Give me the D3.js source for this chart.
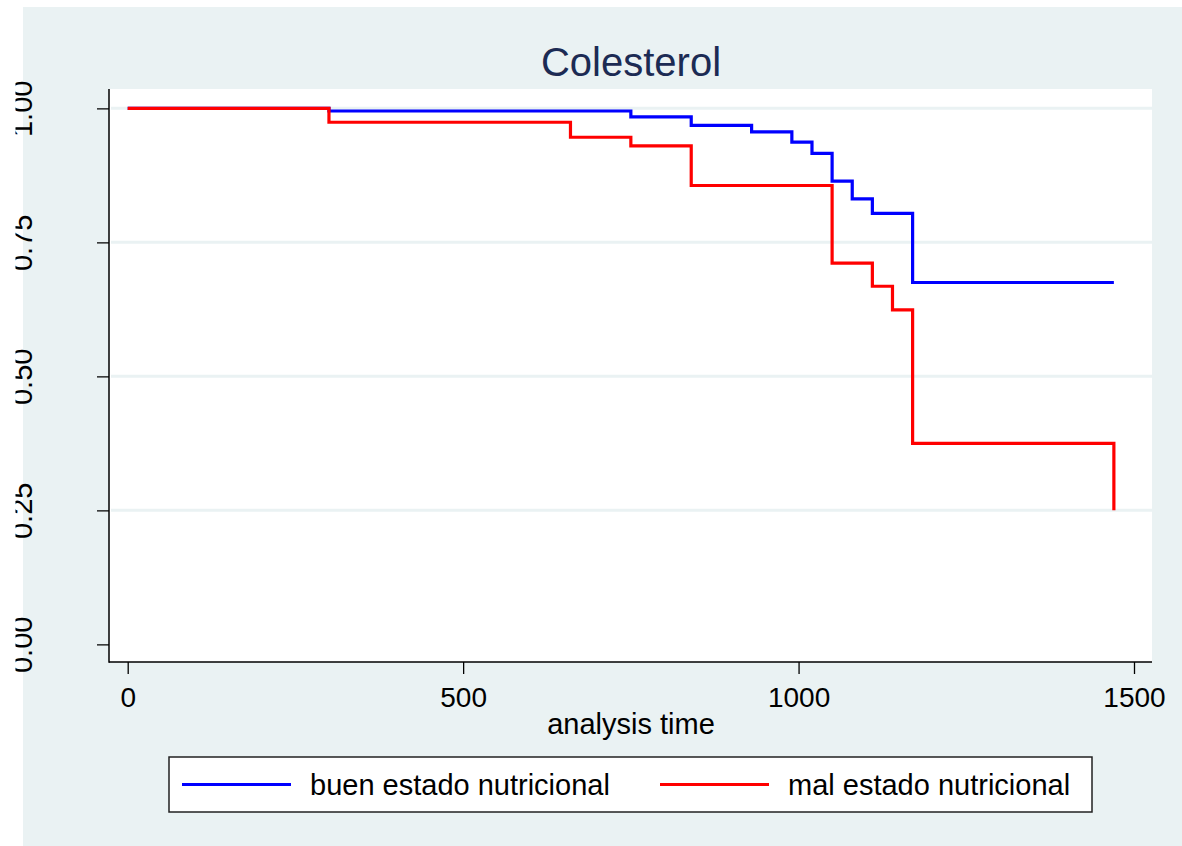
<!DOCTYPE html>
<html>
<head>
<meta charset="utf-8">
<script src="https://cdn.jsdelivr.net/npm/d3@7"></script>
<style>
  html, body { margin: 0; padding: 0; background: #fff; }
  svg { display: block; font-family: "Liberation Sans", Arial, sans-serif; }
</style>
</head>
<body>
<svg id="chart" width="1182" height="846"></svg>
<script>
// Kaplan-Meier estimates
const buenTime = [0, 300, 750, 840, 930, 990, 1020, 1050, 1080, 1110, 1170, 1470];
const buenSurv = [1, 0.995, 0.984, 0.968, 0.956, 0.937, 0.916, 0.864, 0.831, 0.804, 0.675, 0.675];
const malTime = [0, 300, 660, 750, 840, 1050, 1110, 1140, 1170, 1470];
const malSurv = [1, 0.974, 0.946, 0.930, 0.856, 0.711, 0.668, 0.624, 0.375, 0.25];

const seriesNames = ['buen estado nutricional', 'mal estado nutricional'];
const seriesColors = ['#0000ff', '#ff0000'];
const xTicks = [0, 500, 1000, 1500];
const yTicks = [0, 0.25, 0.5, 0.75, 1];
const yTickLabels = ['0.00', '0.25', '0.50', '0.75', '1.00'];

const W = 1182, H = 846;
const plot = { left: 109, right: 1152, top: 89, bottom: 662 };

const svg = d3.select('#chart');

// background
svg.append('rect').attr('x', 23).attr('y', 7).attr('width', W - 23).attr('height', H - 7)
  .attr('fill', '#eaf2f3');
svg.append('rect').attr('x', plot.left).attr('y', plot.top)
  .attr('width', plot.right - plot.left).attr('height', plot.bottom - plot.top)
  .attr('fill', '#fff');

const x = d3.scaleLinear().domain([0, 1500]).range([127.7, 1134]);
const y = d3.scaleLinear().domain([0, 1]).range([644.3, 108.3]);

// grid
svg.append('g').selectAll('line')
  .data(yTicks.filter(d => d > 0))
  .join('line')
  .attr('x1', plot.left + 2).attr('x2', plot.right)
  .attr('y1', d => y(d)).attr('y2', d => y(d))
  .attr('stroke', '#eaf2f3').attr('stroke-width', 3);

// title
svg.append('text')
  .attr('x', 631).attr('y', 76)
  .attr('text-anchor', 'middle')
  .attr('font-size', 40)
  .attr('fill', '#1c2b54')
  .text('Colesterol');

// y axis (labels clipped at the left like the source)
svg.append('clipPath').attr('id', 'yclip')
  .append('rect').attr('x', 15.5).attr('y', 0).attr('width', W).attr('height', H);

const yWrap = svg.append('g').attr('clip-path', 'url(#yclip)');
const yAxis = yWrap.append('g')
  .attr('transform', `translate(${plot.left},0)`)
  .call(d3.axisLeft(y).tickValues(yTicks).tickSize(12).tickFormat((d, i) => yTickLabels[i]));
yAxis.select('.domain').remove();
yAxis.selectAll('.tick line').attr('stroke', '#000').attr('stroke-width', 1.3).attr('x2', -12);
yAxis.selectAll('.tick text')
  .attr('x', 0).attr('dy', null)
  .attr('transform', `translate(${32 - plot.left},0) rotate(-90)`)
  .attr('text-anchor', 'middle')
  .attr('font-size', 29)
  .attr('font-family', '"Liberation Sans", Arial, sans-serif')
  .attr('fill', '#000');

// x axis
const xAxis = svg.append('g')
  .attr('transform', `translate(0,${plot.bottom})`)
  .call(d3.axisBottom(x).tickValues(xTicks).tickSize(12).tickFormat(d3.format('d')));
xAxis.select('.domain').remove();
xAxis.selectAll('.tick line').attr('stroke', '#000').attr('stroke-width', 1.3);
xAxis.selectAll('.tick text')
  .attr('y', 45).attr('dy', null)
  .attr('font-size', 28)
  .attr('font-family', '"Liberation Sans", Arial, sans-serif')
  .attr('fill', '#000');

// axis lines
svg.append('line').attr('x1', plot.left).attr('x2', plot.left)
  .attr('y1', plot.top).attr('y2', plot.bottom + 0.7)
  .attr('stroke', '#000').attr('stroke-width', 1.5);
svg.append('line').attr('x1', plot.left).attr('x2', plot.right)
  .attr('y1', plot.bottom).attr('y2', plot.bottom)
  .attr('stroke', '#000').attr('stroke-width', 1.5);

svg.append('text')
  .attr('x', 631).attr('y', 734)
  .attr('text-anchor', 'middle')
  .attr('font-size', 29)
  .text('analysis time');

// survival curves
const line = d3.line()
  .x(d => x(d[0]))
  .y(d => y(d[1]))
  .curve(d3.curveStepAfter);

const series = [
  d3.zip(buenTime, buenSurv),
  d3.zip(malTime, malSurv)
];

svg.append('g').selectAll('path')
  .data(series)
  .join('path')
  .attr('d', line)
  .attr('fill', 'none')
  .attr('stroke', (d, i) => seriesColors[i])
  .attr('stroke-width', 3.2);

// legend
const legend = svg.append('g');
legend.append('rect')
  .attr('x', 169).attr('y', 757).attr('width', 923).attr('height', 55)
  .attr('fill', '#fff').attr('stroke', '#222').attr('stroke-width', 1.5);

const legendX = [182, 660];
const items = legend.selectAll('g.item')
  .data(seriesNames)
  .join('g')
  .attr('class', 'item')
  .attr('transform', (d, i) => `translate(${legendX[i]},784.5)`);
items.append('line')
  .attr('x1', 0).attr('x2', 109)
  .attr('stroke', (d, i) => seriesColors[i]).attr('stroke-width', 3.2);
items.append('text')
  .attr('x', 128).attr('y', 10.5)
  .attr('font-size', 29)
  .text(d => d);
</script>
</body>
</html>
